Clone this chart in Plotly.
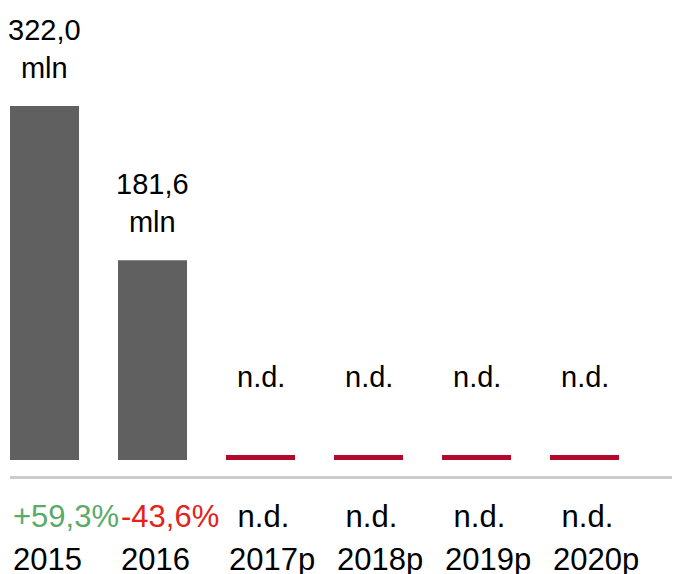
import plotly.graph_objects as go

categories = ["2015", "2016", "2017p", "2018p", "2019p", "2020p"]
values = [322.0, 181.6, None, None, None, None]
value_labels = ["322,0<br>mln", "181,6<br>mln", "n.d.", "n.d.", "n.d.", "n.d."]
change_labels = ["+59,3%", "-43,6%", " n.d.", " n.d.", " n.d.", " n.d."]
change_colors = ["#5aaa6a", "#e3221b", "#000000", "#000000", "#000000", "#000000"]

ND_HEIGHT = 4.5
FONT = "Liberation Sans, Arial, sans-serif"
FS = 29
FS_BOTTOM = 31

xs = list(range(len(categories)))
bar_y = [v if v is not None else 0 for v in values]
nd_y = [ND_HEIGHT if v is None else 0 for v in values]

fig = go.Figure()
fig.add_trace(go.Bar(x=xs, y=bar_y, width=0.639, marker=dict(color="#606060", line=dict(width=0)),
                     hoverinfo="skip"))
fig.add_trace(go.Bar(x=xs, y=nd_y, width=0.639, marker=dict(color="#b5092b", line=dict(width=0)),
                     hoverinfo="skip"))

# axis line
fig.add_shape(type="line", xref="x", yref="y", x0=-0.319, x1=6.0, y0=-15.9, y1=-15.9,
              line=dict(color="#cccccc", width=3))

for i, v in enumerate(values):
    if v is not None:
        fig.add_annotation(x=i, y=v, text=value_labels[i], showarrow=False, yanchor="bottom",
                           xanchor="center", yshift=20, font=dict(family=FONT, size=FS, color="#000000"))
    else:
        fig.add_annotation(x=i, y=0, text=value_labels[i], showarrow=False, yanchor="bottom",
                           xanchor="center", yshift=65, font=dict(family=FONT, size=FS, color="#000000"))
    fig.add_annotation(x=i, y=0, text=change_labels[i].replace(" ", "&nbsp;"), showarrow=False,
                       yanchor="top", xanchor="left", xshift=-34, yshift=-37,
                       font=dict(family=FONT, size=FS_BOTTOM, color=change_colors[i]))
    fig.add_annotation(x=i, y=0, text=categories[i], showarrow=False,
                       yanchor="top", xanchor="left", xshift=-34, yshift=-80,
                       font=dict(family=FONT, size=FS_BOTTOM, color="#000000"))

fig.update_layout(
    width=680, height=574, margin=dict(l=0, r=0, t=0, b=0),
    paper_bgcolor="white", plot_bgcolor="white", showlegend=False, barmode="overlay",
    xaxis=dict(range=[-0.338, 5.958], visible=False, fixedrange=True),
    yaxis=dict(range=[-111.0, 411.1], visible=False, fixedrange=True),
)
fig.write_html("out.html", post_script="document.body.style.overflow='hidden';")
